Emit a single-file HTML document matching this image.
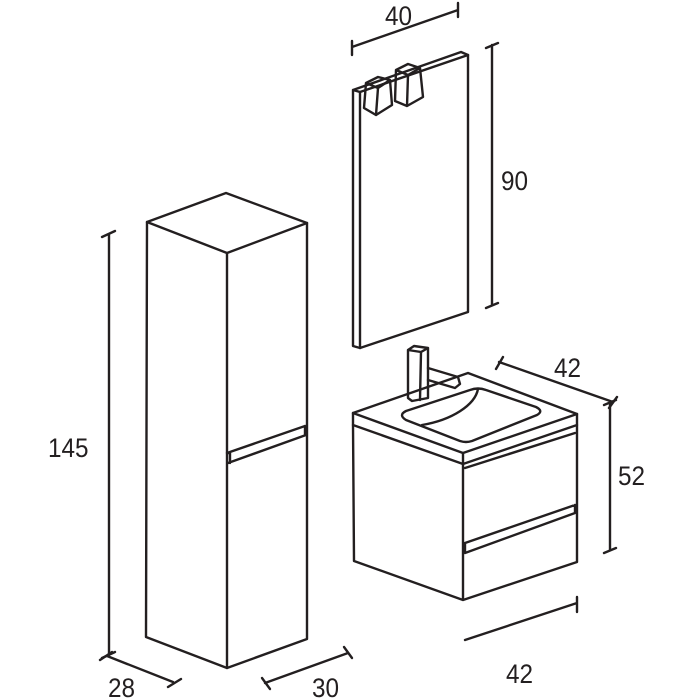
<!DOCTYPE html>
<html><head><meta charset="utf-8"><style>html,body{margin:0;padding:0;background:#fff}svg{display:block}text{font-family:"Liberation Sans",sans-serif;font-size:27px;fill:#231f20;stroke:none}</style></head>
<body>
<svg width="700" height="700" viewBox="0 0 700 700" fill="none" stroke="#231f20" stroke-width="2.4" stroke-linejoin="round" stroke-linecap="round">
<!-- Tall cabinet -->
<path d="M147 222 L226 193 L307 223 L227 253 Z"/>
<path d="M147 222 L146 637 L227 668 L307 639 L307 223"/>
<path d="M227 253 L227 668"/>
<path d="M227 453 L305 426 M228 463 L306 435 M227 453 L230 453 L230 463 M305 426 L305 435"/>
<!-- 145 dim -->
<path d="M109 234 L109 655 M102 237 L115 231 M102 658 L115 652"/>
<!-- 28 dim -->
<path d="M107 656 L173 682 M100 660 L112 652 M168 687 L181 679"/>
<!-- 30 dim -->
<path d="M265 683 L348 653 M262 678 L270 689 M344 647 L352 658"/>
<text x="48" y="457" transform="translate(48 0) scale(0.9 1) translate(-48 0)">145</text>
<text x="108" y="697" transform="translate(108 0) scale(0.9 1) translate(-108 0)">28</text>
<text x="312" y="697" transform="translate(312 0) scale(0.9 1) translate(-312 0)">30</text>
<!-- Mirror -->
<path d="M360 92 L468 55 L468 312 L360 348 Z"/>
<path d="M360 92 L353 90 L353 346 L360 348 M353 90 L461 52 L468 55"/>
<!-- lights -->
<path d="M366 83 L378 77 L390 80 L392 105 L376 115 L364 108 Z M366 83 L378 88 L390 80 M378 88 L376 115"/>
<path d="M396 70 L408 64 L420 68 L423 97 L407 106 L395 101 Z M396 70 L408 75 L420 68 M408 75 L407 106"/>
<!-- 40 dim -->
<path d="M352 47 L458 10 M352 41 L352 55 M458 3 L458 17"/>
<text x="385" y="25" transform="translate(385 0) scale(0.9 1) translate(-385 0)">40</text>
<!-- 90 dim -->
<path d="M492 45 L492 305 M486 48 L498 43 M486 308 L498 303"/>
<text x="501" y="190" transform="translate(501 0) scale(0.9 1) translate(-501 0)">90</text>
<!-- Vanity -->
<path d="M353 413 L468 373 L577 414 L463 453 Z"/>
<path d="M353 413 L353 425 L463 464 L577 425 L577 414 M463 453 L463 464"/>
<path d="M353 425 L354 561 L463 600 L577 562 L577 425 M463 464 L463 600"/>
<path d="M465 468 L575 433"/>
<path d="M465 543 L575 505 M465 553 L575 513 M465 543 L465 553 M575 505 L575 513"/>
<!-- basin -->
<path d="M406 411 L470 390 Q478 387 486 390 L536 407 Q544 411 537 415 L472 441 Q466 443 460 441 L406 420 Q398 415 406 411 Z"/>
<path d="M422 425 C452 420 475 405 478 389"/>
<!-- faucet -->
<path d="M408 350 L414 346 L428 348 L428 398 L412 401 L408 398 Z M408 350 L421 352 L428 348 M421 352 L420 400"/>
<path d="M428 368 L458 377 L460 384 L455 388 L428 380"/>
<!-- 42 top dim -->
<path d="M499 362 L613 402 M496 369 L503 357 M609 408 L617 397"/>
<text x="554" y="377" transform="translate(554 0) scale(0.9 1) translate(-554 0)">42</text>
<!-- 52 dim -->
<path d="M610 402 L610 550 M604 405 L616 400 M604 553 L616 548"/>
<text x="618" y="485" transform="translate(618 0) scale(0.9 1) translate(-618 0)">52</text>
<!-- 42 bottom dim -->
<path d="M465 640 L577 603 M577 597 L577 612"/>
<text x="506" y="683" transform="translate(506 0) scale(0.9 1) translate(-506 0)">42</text>
</svg>
</body></html>
